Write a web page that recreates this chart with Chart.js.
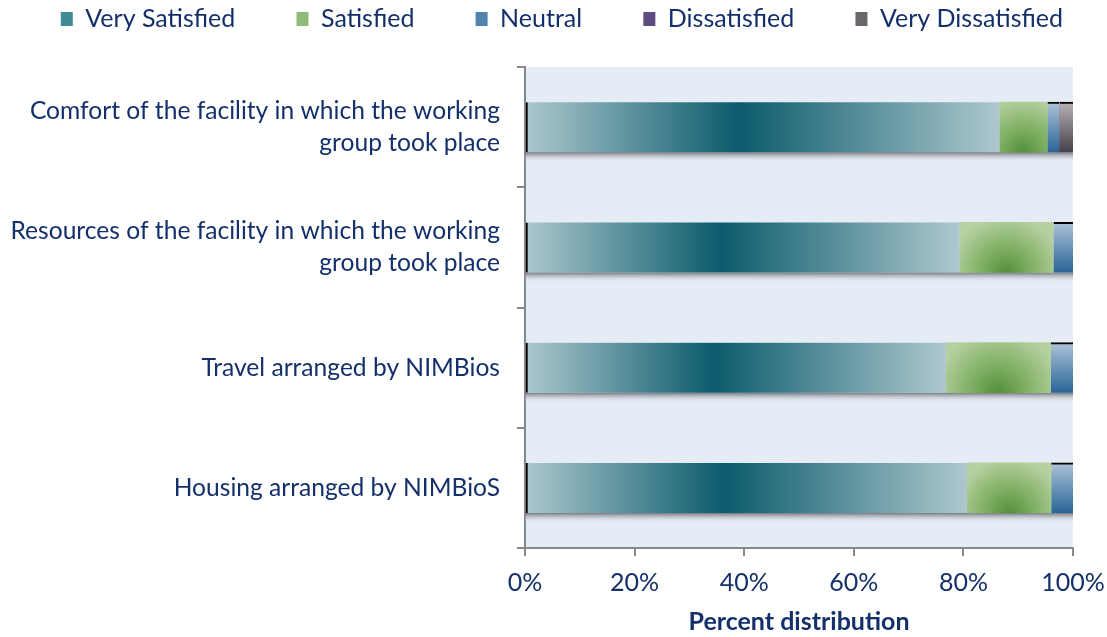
<!DOCTYPE html>
<html>
<head>
<meta charset="utf-8">
<title>Satisfaction with working group logistics</title>
<script src="https://cdn.jsdelivr.net/npm/chart.js@4.4.1/dist/chart.umd.min.js"></script>
<style>
  html, body { margin: 0; padding: 0; background: #ffffff; }
  #wrap { width: 1107px; height: 637px; }
</style>
</head>
<body>
<div id="wrap"><canvas id="satisfactionChart"></canvas></div>
<script>
// survey items, top to bottom
const items = [
    ['Comfort of the facility in which the working', 'group took place'],
    ['Resources of the facility in which the working', 'group took place'],
    'Travel arranged by NIMBios',
    'Housing arranged by NIMBioS'
];

// percent of responses per item
const verySatisfied    = [86.6, 79.3, 76.8, 80.7];
const satisfied        = [8.7, 17.1, 19.1, 15.3];
const neutral          = [2.2, 3.6, 4.1, 4.0];
const dissatisfied     = [0, 0, 0, 0];
const veryDissatisfied = [2.5, 0, 0, 0];

const percentTicks = [0, 20, 40, 60, 80, 100];

const NAVY = '#14306b';
const AXIS = '#86888c';
const FONT = 'Lato, "Open Sans", sans-serif';
const BAR = 50;

// pixel box of one stacked segment, worked out from the scales
function segment(chart, di, i) {
    const xs = chart.scales.x, ys = chart.scales.y;
    let start = 0;
    for (let k = 0; k < di; k++) start += chart.data.datasets[k].data[i];
    const end = start + chart.data.datasets[di].data[i];
    const yc = ys.getPixelForValue(i);
    return {
        x0: xs.getPixelForValue(start),
        x1: xs.getPixelForValue(end),
        top: yc - BAR / 2,
        bottom: yc + BAR / 2
    };
}

function horizontalFill(edge, middle, at) {
    return function (c) {
        const chart = c.chart;
        if (!chart.chartArea || c.dataIndex === undefined) return middle;
        const s = segment(chart, c.datasetIndex, c.dataIndex);
        if (s.x1 - s.x0 < 1) return middle;
        const g = chart.ctx.createLinearGradient(s.x0, 0, s.x1, 0);
        g.addColorStop(0, edge);
        g.addColorStop(at, middle);
        g.addColorStop(1, edge);
        return g;
    };
}

function glowFill(edge, mid, middle) {
    return function (c) {
        const chart = c.chart;
        if (!chart.chartArea || c.dataIndex === undefined) return middle;
        const s = segment(chart, c.datasetIndex, c.dataIndex);
        if (s.x1 - s.x0 < 1) return middle;
        const cx = (s.x0 + s.x1) / 2;
        const r = Math.max((s.x1 - s.x0) * 0.6, BAR * 1.1);
        const g = chart.ctx.createRadialGradient(cx, s.bottom, 0, cx, s.bottom, r);
        g.addColorStop(0, middle);
        g.addColorStop(0.45, mid);
        g.addColorStop(1, edge);
        return g;
    };
}

function verticalFill(light, dark) {
    return function (c) {
        const chart = c.chart;
        if (!chart.chartArea || c.dataIndex === undefined) return dark;
        const s = segment(chart, c.datasetIndex, c.dataIndex);
        const g = chart.ctx.createLinearGradient(0, s.top, 0, s.bottom);
        g.addColorStop(0, light);
        g.addColorStop(1, dark);
        return g;
    };
}

const swatches = ['#3f8b95', '#8fbb78', '#5083ad', '#5e4a80', '#6b666b'];

// plot area fill plus the soft shadow under each bar
const plotBackdrop = {
    id: 'plotBackdrop',
    beforeDraw(chart) {
        const {ctx, chartArea: a} = chart;
        ctx.save();
        ctx.fillStyle = '#e6ecf5';
        ctx.fillRect(a.left, a.top, a.right - a.left, a.bottom - a.top);
        ctx.restore();
    },
    beforeDatasetsDraw(chart) {
        const ctx = chart.ctx;
        const xs = chart.scales.x;
        const n = chart.data.datasets.length;
        ctx.save();
        items.forEach((_, i) => {
            let total = 0;
            for (let k = 0; k < n; k++) total += chart.data.datasets[k].data[i];
            const s = segment(chart, 0, i);
            const x1 = xs.getPixelForValue(total);
            const g = ctx.createLinearGradient(0, s.bottom, 0, s.bottom + 10);
            g.addColorStop(0, 'rgba(110,112,118,0.95)');
            g.addColorStop(1, 'rgba(230,236,245,0)');
            ctx.fillStyle = g;
            ctx.fillRect(s.x0, s.bottom, x1 - s.x0, 10);
        });
        ctx.restore();
    }
};

const ctx = document.getElementById('satisfactionChart').getContext('2d');
const satisfactionChart = new Chart(ctx, {
    type: 'bar',
    data: {
        labels: items,
        datasets: [{
            label: 'Very Satisfied',
            data: verySatisfied,
            backgroundColor: horizontalFill('#adc8ce', '#0b5b6c', 0.45),
            borderColor: '#000000',
            borderWidth: {left: 2, top: 0, right: 0, bottom: 0},
            borderSkipped: false
        }, {
            label: 'Satisfied',
            data: satisfied,
            backgroundColor: glowFill('#b6d1a1', '#80b064', '#53903a')
        }, {
            label: 'Neutral',
            data: neutral,
            backgroundColor: verticalFill('#adc3d8', '#2a6597'),
            borderColor: '#000000',
            borderWidth: {top: 2, left: 0, right: 0, bottom: 0},
            borderSkipped: false
        }, {
            label: 'Dissatisfied',
            data: dissatisfied,
            backgroundColor: verticalFill('#a592b8', '#4d3366')
        }, {
            label: 'Very Dissatisfied',
            data: veryDissatisfied,
            backgroundColor: verticalFill('#b8b2b6', '#48404a'),
            borderColor: '#000000',
            borderWidth: {top: 2, left: 0, right: 0, bottom: 0},
            borderSkipped: false
        }]
    },
    options: {
        indexAxis: 'y',
        responsive: true,
        maintainAspectRatio: false,
        animation: false,
        barThickness: BAR,
        layout: {
            padding: {top: -3.5, left: 0, right: 34, bottom: 0}
        },
        plugins: {
            tooltip: {enabled: false},
            legend: {
                position: 'top',
                align: 'end',
                labels: {
                    color: NAVY,
                    font: {family: FONT, size: 25},
                    boxWidth: 12,
                    boxHeight: 14,
                    padding: 10,
                    generateLabels(chart) {
                        const last = chart.data.datasets.length - 1;
                        return chart.data.datasets.map((ds, i) => ({
                            // trailing spaces widen the gap between entries
                            text: ds.label + (i < last ? ' '.repeat(8) : ''),
                            fillStyle: swatches[i],
                            strokeStyle: swatches[i],
                            lineWidth: 0,
                            fontColor: NAVY,
                            datasetIndex: i,
                            hidden: false
                        }));
                    }
                }
            },
            // empty spacer between the legend and the plot
            title: {
                display: true,
                text: '',
                weight: 500,
                font: {size: 10, lineHeight: 1},
                padding: {top: 0, bottom: 15.5}
            }
        },
        scales: {
            x: {
                stacked: true,
                min: 0,
                max: 100,
                afterBuildTicks(scale) {
                    scale.ticks = percentTicks.map(v => ({value: v}));
                },
                afterFit(scale) {
                    scale.height = 89;
                    // let the end labels hang past the plot edges
                    scale.paddingLeft = 0;
                    scale.paddingRight = 0;
                },
                ticks: {
                    color: NAVY,
                    font: {family: FONT, size: 25},
                    padding: 12,
                    callback: v => v + '%'
                },
                grid: {drawOnChartArea: false, tickLength: 8, color: AXIS, lineWidth: 2},
                border: {color: AXIS, width: 2},
                title: {
                    display: true,
                    text: 'Percent distribution',
                    color: NAVY,
                    font: {family: FONT, size: 25, weight: 'bold', lineHeight: 1.2},
                    padding: {top: 0, bottom: 0}
                }
            },
            y: {
                stacked: true,
                afterFit(scale) { scale.width = 525; },
                ticks: {
                    color: NAVY,
                    font: {family: FONT, size: 24.6, lineHeight: 1.3},
                    padding: 17
                },
                grid: {drawOnChartArea: false, tickLength: 8, color: AXIS, lineWidth: 2, offset: true},
                border: {color: AXIS, width: 2}
            }
        }
    },
    plugins: [plotBackdrop]
});
</script>
</body>
</html>
